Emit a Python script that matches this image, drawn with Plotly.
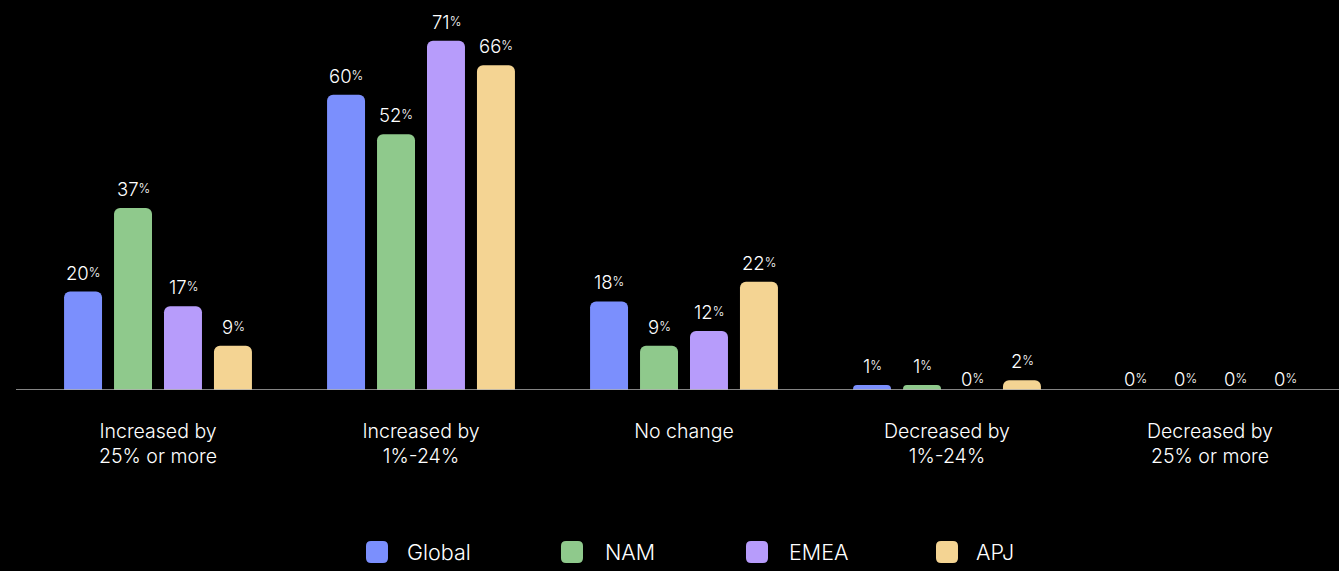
import plotly.graph_objects as go

categories = ["Increased by<br>25% or more", "Increased by<br>1%-24%", "No change",
              "Decreased by<br>1%-24%", "Decreased by<br>25% or more"]
regions = ["Global", "NAM", "EMEA", "APJ"]
global_vals = [20, 60, 18, 1, 0]
nam_vals = [37, 52, 9, 1, 0]
emea_vals = [17, 71, 12, 0, 0]
apj_vals = [9, 66, 22, 2, 0]
colors = ["#7b8ffd", "#8fc98c", "#b79cfb", "#f4d493"]

series = [global_vals, nam_vals, emea_vals, apj_vals]
FONT = "Inter, Liberation Sans, sans-serif"
WEIGHT = 300

W, H = 1339, 571
ML, MR, MT, MB = 26, 0, 21, 181
CAT_PX = 263  # pixel width of one category slot
SLOT_PX = 50  # pixel distance between neighbouring bars in a group

fig = go.Figure()
for name, vals, col in zip(regions, series, colors):
    fig.add_trace(go.Bar(
        name=name, x=categories, y=vals,
        marker=dict(color=col, cornerradius=6, line=dict(width=0)),
        showlegend=False,
        hoverinfo="x+y+name",
    ))

# value labels above each bar, with a small raised percent sign
for i, (vals, col) in enumerate(zip(series, colors)):
    for cat, v in zip(categories, vals):
        fig.add_annotation(
            x=cat, y=v, xref="x", yref="y",
            text=f"{v}<span style='font-size:12.5px;baseline-shift:3px'>%</span>",
            showarrow=False, xanchor="center", yanchor="bottom",
            xshift=(i - 1.5) * SLOT_PX,
            yshift=6 if v > 0 else -2,
            font=dict(size=18.5, color="white", family=FONT, weight=WEIGHT),
        )

pw = W - ML - MR
ph = H - MT - MB
span = pw / CAT_PX
x0_range = -(158 - ML) / CAT_PX

fig.update_layout(
    width=W, height=H,
    paper_bgcolor="black", plot_bgcolor="black",
    margin=dict(l=ML, r=MR, t=MT, b=MB),
    barmode="group", bargap=0.24, bargroupgap=0.24,
    font=dict(family=FONT, color="white"),
    xaxis=dict(showgrid=False, showline=False, zeroline=False, ticks="",
               range=[x0_range, x0_range + span],
               tickfont=dict(size=19.5, color="white", family=FONT, weight=WEIGHT),
               ticklabelstandoff=27),
    yaxis=dict(range=[0, 75], visible=False, showgrid=False, zeroline=False),
)

# baseline under the bars
fig.add_shape(type="line", xref="paper", yref="y",
              x0=(16 - ML) / pw, x1=1, y0=0, y1=0,
              line=dict(color="#b0b0b0", width=1.5), layer="above")

# custom legend: rounded swatches with labels
swatch_x = [366, 561, 746, 936]
text_x = [405, 603, 787, 974]
cy = 552
sz = 22
r = 5


def px_to_paper(x, y):
    return (x - ML) / pw, (H - MB - y) / ph


for name, col, sx, tx in zip(regions, colors, swatch_x, text_x):
    x0, x1 = sx, sx + sz
    y0, y1 = cy - sz / 2, cy + sz / 2
    pts = [
        ("M", x0 + r, y0), ("L", x1 - r, y0), ("Q", x1, y0, x1, y0 + r),
        ("L", x1, y1 - r), ("Q", x1, y1, x1 - r, y1), ("L", x0 + r, y1),
        ("Q", x0, y1, x0, y1 - r), ("L", x0, y0 + r), ("Q", x0, y0, x0 + r, y0),
    ]
    path = ""
    for p in pts:
        cmd = p[0]
        coords = p[1:]
        conv = []
        for k in range(0, len(coords), 2):
            px, py = px_to_paper(coords[k], coords[k + 1])
            conv.append(f"{px:.5f},{py:.5f}")
        path += cmd + " " + " ".join(conv) + " "
    path += "Z"
    fig.add_shape(type="path", xref="paper", yref="paper", path=path,
                  fillcolor=col, line=dict(width=0))
    ax, ay = px_to_paper(tx, cy)
    fig.add_annotation(xref="paper", yref="paper", x=ax, y=ay, text=name,
                       showarrow=False, xanchor="left", yanchor="middle",
                       font=dict(size=21.5, color="white", family=FONT, weight=WEIGHT))

fig.write_html("out.html")
